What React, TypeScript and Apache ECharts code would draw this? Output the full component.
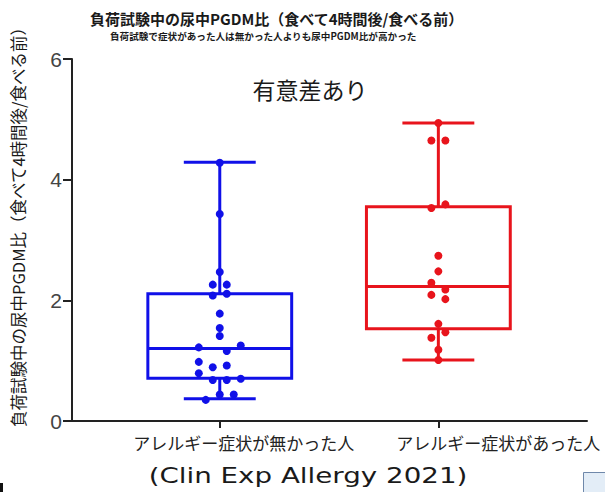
import React, { useEffect, useRef } from "react";
import * as echarts from "echarts";

const categories = ["アレルギー症状が無かった人", "アレルギー症状があった人"];
// [min, Q1, median, Q3, max]
const boxStats = [
  [0.37, 0.71, 1.2, 2.11, 4.29],
  [1.01, 1.53, 2.23, 3.55, 4.94],
];
const noSymptomValues = [4.28, 3.43, 2.47, 2.26, 2.26, 2.08, 2.11, 1.78, 1.54, 1.41, 1.22, 1.25, 1.16, 0.98, 0.89, 0.92, 0.79, 0.68, 0.68, 0.7, 0.44, 0.44, 0.35];
const noSymptomSlots = [0, 0, 0, -1, 1, -1, 1, 0, 0, 0, -3, 3, 1, -3, -1, 1, -3, -1, 1, 3, 0, 2, -2];
const symptomValues = [4.94, 4.65, 4.65, 3.53, 3.59, 2.74, 2.48, 2.29, 2.18, 2.09, 2.02, 1.61, 1.47, 1.38, 1.18, 1.01];
const symptomSlots = [0, -1, 1, -1, 1, 0, 0, -1, 1, -1, 1, 0, 1, -1, 0, 0];
const yTicks = [0, 2, 4, 6];

const titleText = "負荷試験中の尿中PGDM比（食べて4時間後/食べる前）";
const subtitleText = "負荷試験で症状があった人は無かった人よりも尿中PGDM比が高かった";
const yName = "負荷試験中の尿中PGDM比（食べて4時間後/食べる前）";
const noteText = "有意差あり";
const citeText = "(Clin Exp Allergy 2021)";

const BLUE = "#1010e8";
const RED = "#e8141c";
const SLOT = 0.032;
const BOX_FRAC = 0.658;
const JP = '"Noto Sans CJK JP", "Noto Sans", sans-serif';

export default function App() {
  const ref = useRef<HTMLDivElement>(null);
  useEffect(() => {
    if (!ref.current) return;
    const chart = echarts.init(ref.current, null, { renderer: "svg" });
    const colors = [BLUE, RED];
    const renderBox = (params: any, api: any) => {
      const i = api.value(0);
      const mn = api.coord([i, api.value(1)]);
      const q1 = api.coord([i, api.value(2)]);
      const md = api.coord([i, api.value(3)]);
      const q3 = api.coord([i, api.value(4)]);
      const mx = api.coord([i, api.value(5)]);
      const w = api.size([BOX_FRAC, 0])[0];
      const cx = mn[0];
      const half = w / 2;
      const cap = w / 4;
      const color = colors[params.dataIndex];
      const ls = { stroke: color, lineWidth: 3, fill: null };
      return {
        type: "group",
        children: [
          { type: "line", shape: { x1: cx, y1: q3[1], x2: cx, y2: mx[1] }, style: ls },
          { type: "line", shape: { x1: cx, y1: q1[1], x2: cx, y2: mn[1] }, style: ls },
          { type: "line", shape: { x1: cx - cap, y1: mx[1], x2: cx + cap, y2: mx[1] }, style: ls },
          { type: "line", shape: { x1: cx - cap, y1: mn[1], x2: cx + cap, y2: mn[1] }, style: ls },
          {
            type: "rect",
            shape: { x: cx - half, y: q3[1], width: w, height: q1[1] - q3[1] },
            style: { stroke: color, lineWidth: 3, fill: "rgba(255,255,255,0)" },
          },
          { type: "line", shape: { x1: cx - half, y1: md[1], x2: cx + half, y2: md[1] }, style: ls },
        ],
      };
    };
    const option: any = {
      animation: false,
      backgroundColor: "#fff",
      textStyle: { fontFamily: JP },
      title: [
        {
          text: titleText,
          left: 90,
          top: 11,
          padding: 0,
          textStyle: { fontSize: 15, fontWeight: "bold", color: "#1a1a1a", fontFamily: JP },
        },
        {
          text: subtitleText,
          left: 110,
          top: 31,
          padding: 0,
          textStyle: { fontSize: 9.6, fontWeight: "bold", color: "#1a1a1a", fontFamily: JP },
        },
      ],
      grid: { left: 72, right: 18, top: 59, bottom: 71, containLabel: false },
      xAxis: {
        type: "value",
        min: -0.676,
        max: 1.68,
        splitLine: { show: false },
        axisLine: { show: true, onZero: false, lineStyle: { color: "#222", width: 2 } },
        axisTick: { show: true, customValues: [0, 1], length: 7, lineStyle: { color: "#222", width: 2 } },
        axisLabel: {
          customValues: [0.11, 1.274],
          formatter: (v: number) => categories[Math.round(v)],
          fontSize: 17,
          color: "#222",
          margin: 13,
          fontFamily: JP,
        },
      },
      yAxis: {
        type: "value",
        min: 0,
        max: 6,
        interval: 2,
        splitLine: { show: false },
        axisLine: { show: true, onZero: false, lineStyle: { color: "#222", width: 2 } },
        axisTick: { show: true, length: 9, lineStyle: { color: "#222", width: 2 } },
        axisLabel: {
          fontSize: 21,
          color: "#444",
          margin: 10,
          fontFamily: '"Liberation Sans", Arial, sans-serif',
          customValues: yTicks,
        },
      },
      series: [
        {
          type: "custom",
          z: 2,
          renderItem: renderBox,
          encode: { x: 0, y: [1, 2, 3, 4, 5] },
          data: boxStats.map((s, i) => [i, ...s]),
        },
        {
          type: "scatter",
          z: 3,
          symbolSize: 8,
          itemStyle: { color: BLUE, opacity: 1 },
          data: noSymptomValues.map((v, i) => [0 + noSymptomSlots[i] * SLOT, v]),
        },
        {
          type: "scatter",
          z: 3,
          symbolSize: 8,
          itemStyle: { color: RED, opacity: 1 },
          data: symptomValues.map((v, i) => [1 + symptomSlots[i] * SLOT, v]),
        },
      ],
      graphic: [
        {
          type: "text",
          x: 18,
          y: 223,
          rotation: Math.PI / 2,
          style: {
            text: yName,
            fontSize: 16.5,
            fontFamily: JP,
            fill: "#1a1a1a",
            align: "center",
            verticalAlign: "middle",
          },
        },
        {
          type: "text",
          x: 310,
          y: 89,
          style: {
            text: noteText,
            fontSize: 23,
            fontFamily: JP,
            fill: "#1a1a1a",
            align: "center",
            verticalAlign: "middle",
          },
        },
        {
          type: "text",
          x: 308,
          y: 476,
          scaleX: 1.26,
          style: {
            text: citeText,
            fontSize: 22,
            fontFamily: '"DejaVu Sans", sans-serif',
            fill: "#1a1a1a",
            align: "center",
            verticalAlign: "middle",
          },
        },
        {
          type: "rect",
          shape: { x: 583.5, y: 472.5, width: 30, height: 30 },
          style: { fill: "#e3edf7", stroke: "#6f88aa", lineWidth: 1 },
        },
        {
          type: "rect",
          shape: { x: 0, y: 483, width: 3, height: 9 },
          style: { fill: "#111" },
        },
      ],
    };
    chart.setOption(option);
    return () => chart.dispose();
  }, []);
  return (
    <div
      ref={ref}
      style={{ position: "fixed", left: 0, top: 0, width: 605, height: 492 }}
    />
  );
}
